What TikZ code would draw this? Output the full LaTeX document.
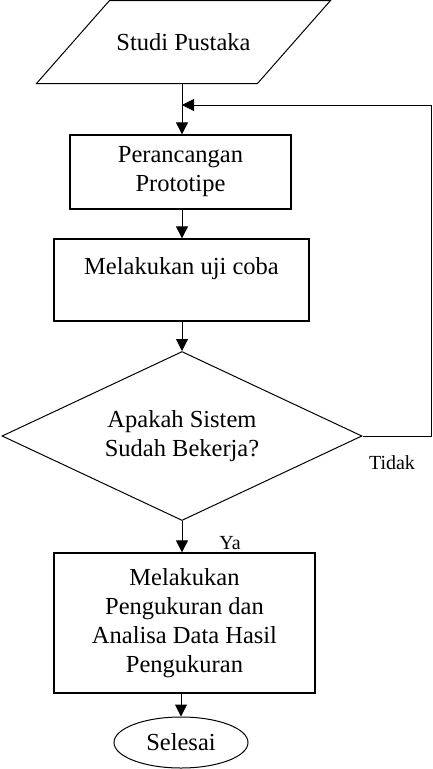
\documentclass[tikz,border=0pt]{standalone}
\usepackage{fontspec}
\setmainfont{Liberation Serif}
\usetikzlibrary{shapes.geometric,arrows.meta}

\begin{document}
\begin{tikzpicture}[x=1pt,y=-1pt,line width=1pt,
        font=\fontsize{24.5}{29}\selectfont,
        kotak/.style={draw,rectangle,line width=1.3pt,align=center,inner sep=0pt},
        kecil/.style={font=\fontsize{20}{24}\selectfont},
        panah/.style={-{Triangle[width=12pt,length=12pt]}}]
        \useasboundingbox (0,0) rectangle (432,769);
        \node[minimum width=220pt,minimum height=82pt,inner sep=0pt] (studi) at (183.5,42) {Studi Pustaka};
        \draw ([xshift=36.5pt]studi.north west) -- ([xshift=36.5pt]studi.north east)
              -- ([xshift=-36.5pt]studi.south east) -- ([xshift=-36.5pt]studi.south west) -- cycle;
        \node[kotak,minimum width=221pt,minimum height=74pt] (rancang) at (180.5,172) {Perancangan\\Prototipe};
        \node[kotak,minimum width=255pt,minimum height=82pt] (uji) at (181.5,280) {Melakukan uji coba\\ \mbox{}};
        \node[draw,diamond,shape aspect=2.1,minimum width=360pt,minimum height=169pt,
              inner sep=0pt,align=center] (cek) at (182,436) {Apakah Sistem\\Sudah Bekerja?};
        \node[kotak,minimum width=261pt,minimum height=140pt] (hasil) at (184.5,623) {Melakukan\\Pengukuran dan\\Analisa Data Hasil\\Pengukuran};
        \node[draw,ellipse,minimum width=134pt,minimum height=51pt,inner sep=0pt] (selesai) at (181,742.5) {Selesai};
        \node[kecil] (tidak) at (392,463) {Tidak};
        \node[kecil] (ya) at (230,543) {Ya};
        \coordinate (masuk) at (182,105);
        \draw[panah] (cek.north |- studi.south) -- (cek.north |- rancang.north);
        \draw[panah] (cek.east) -- ++(69,0) |- (masuk);
        \draw[panah] (cek.north |- rancang.south) -- (cek.north |- uji.north);
        \draw[panah] (cek.north |- uji.south) -- (cek.north);
        \draw[panah] (cek.south) -- (cek.south |- hasil.north);
        \draw[panah] (selesai.north |- hasil.south) -- (selesai.north);
\end{tikzpicture}
\end{document}
